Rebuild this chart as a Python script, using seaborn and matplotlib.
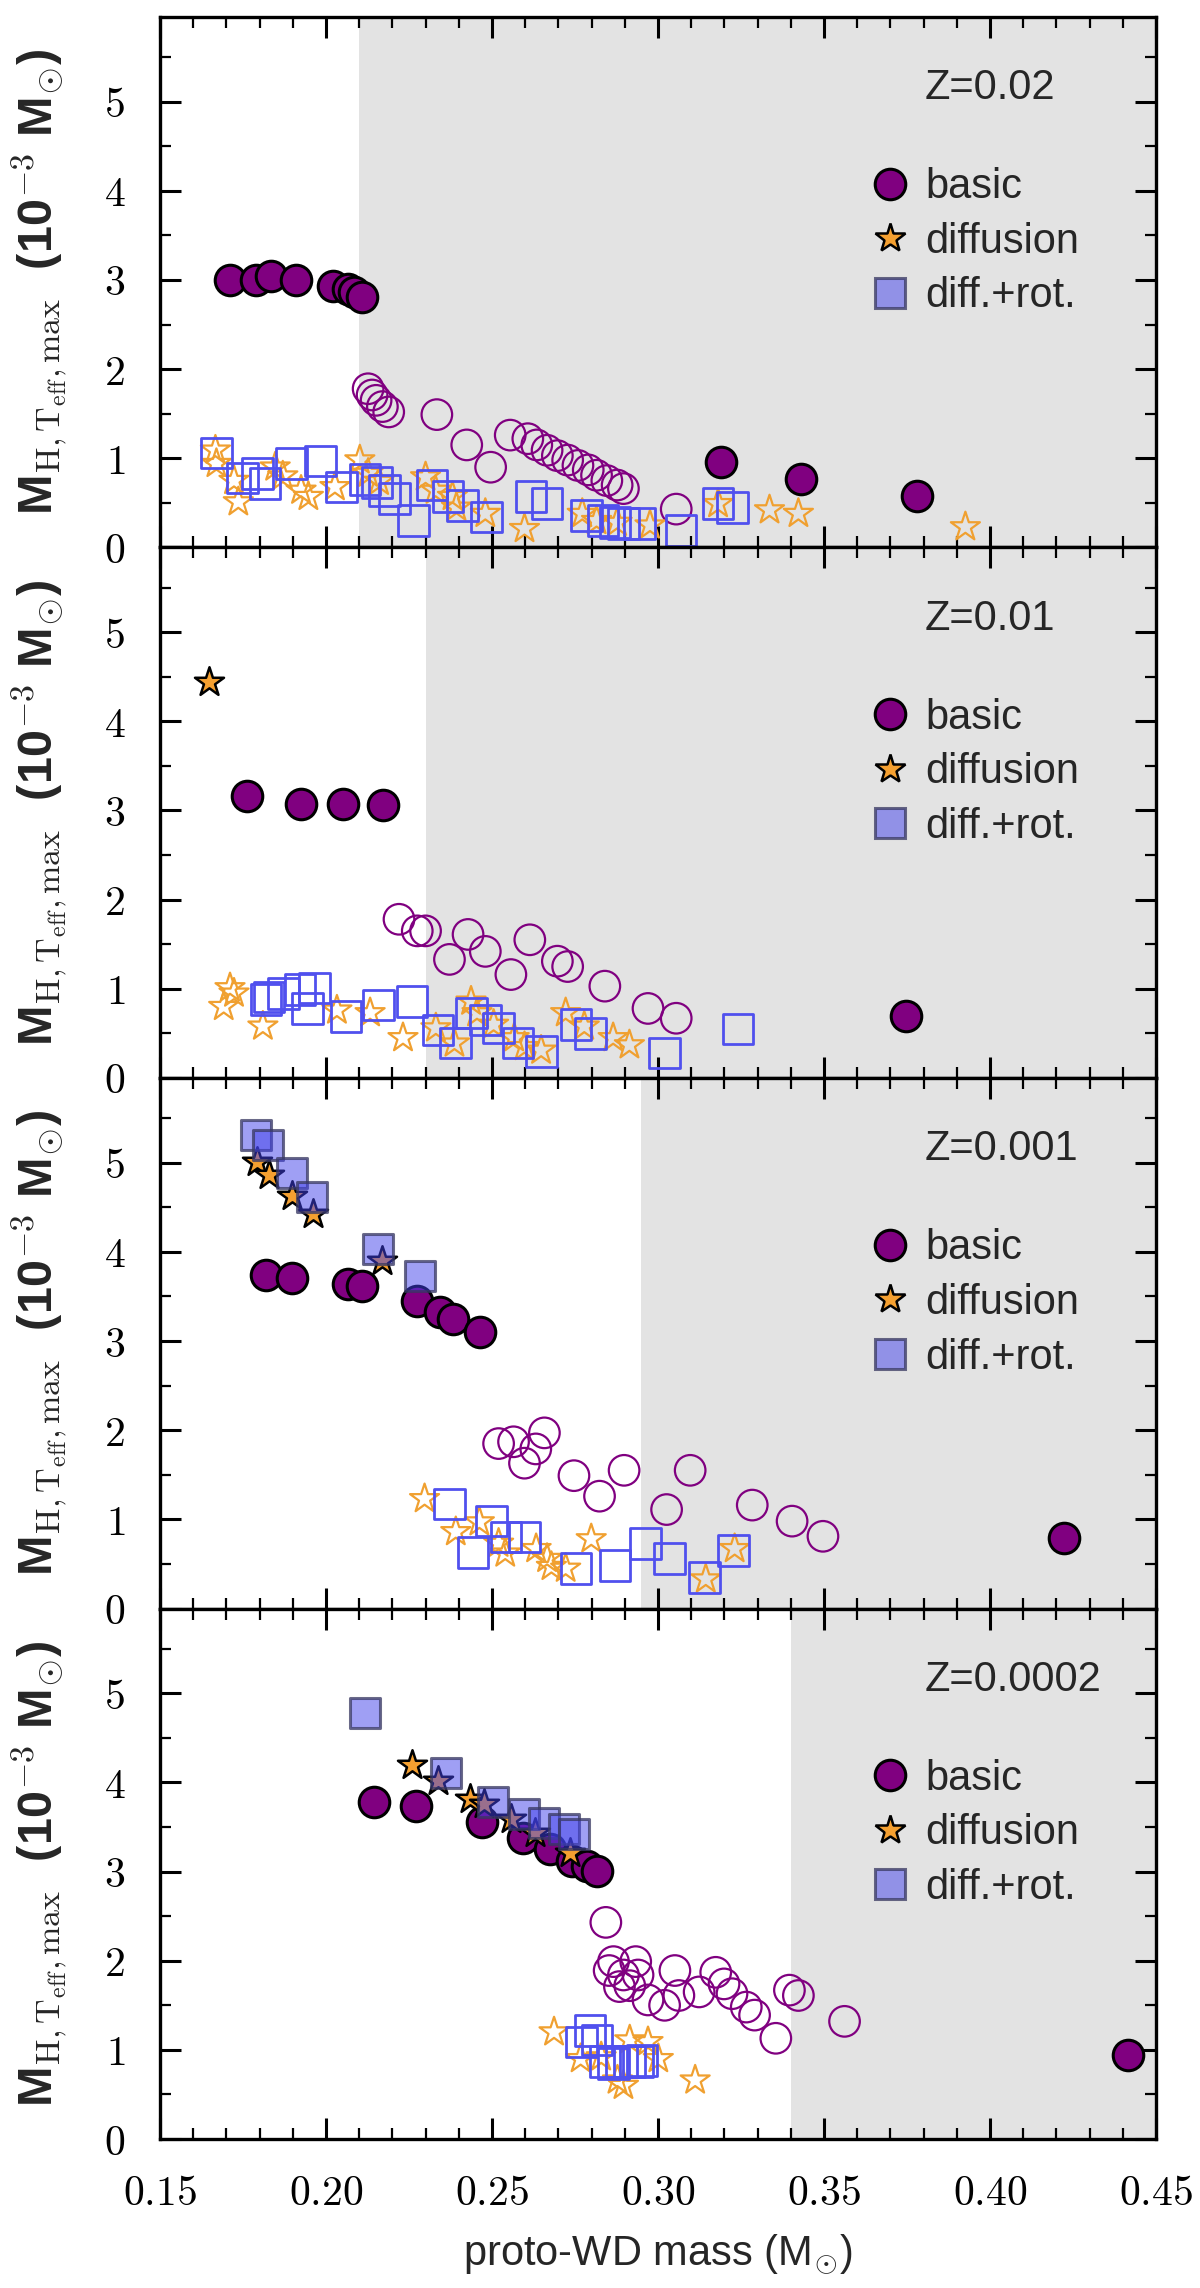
import numpy as np
import matplotlib
matplotlib.use("Agg")
import matplotlib.pyplot as plt
from matplotlib.lines import Line2D
from matplotlib.ticker import MultipleLocator, FuncFormatter
import seaborn as sns

# ---------------- data ----------------
panel_labels = ["Z=0.02", "Z=0.01", "Z=0.001", "Z=0.0002"]
shade_start = [0.21, 0.23, 0.295, 0.34]

# Z = 0.02
z1_basic_fill_x = [0.171, 0.179, 0.1835, 0.191, 0.202, 0.2065, 0.2085, 0.211, 0.319, 0.343, 0.378]
z1_basic_fill_y = [3.00, 3.00, 3.04, 3.00, 2.93, 2.90, 2.86, 2.81, 0.96, 0.77, 0.58]
z1_basic_open_x = [0.2127, 0.2139, 0.2151, 0.2170, 0.2189, 0.2334, 0.2424, 0.2496, 0.2555, 0.2608, 0.2635,
                   0.2666, 0.2697, 0.2728, 0.2759, 0.2790, 0.2815, 0.2846, 0.2877, 0.2896, 0.3055]
z1_basic_open_y = [1.78, 1.71, 1.65, 1.58, 1.52, 1.49, 1.15, 0.90, 1.26, 1.22, 1.15,
                   1.09, 1.03, 0.98, 0.92, 0.87, 0.81, 0.75, 0.70, 0.66, 0.43]
z1_diff_fill_x = []
z1_diff_fill_y = []
z1_diff_open_x = [0.1667, 0.1670, 0.1723, 0.1736, 0.1847, 0.1870, 0.1925, 0.1947, 0.2027, 0.2102, 0.2127, 0.2160,
                  0.2300, 0.2330, 0.2381, 0.2393, 0.2480, 0.2598, 0.2772, 0.2815, 0.2877, 0.2976, 0.3181,
                  0.3336, 0.3423, 0.3926]
z1_diff_open_y = [1.09, 0.94, 0.75, 0.51, 0.90, 0.80, 0.64, 0.57, 0.68, 0.98, 0.83, 0.74,
                  0.79, 0.64, 0.57, 0.45, 0.38, 0.21, 0.38, 0.30, 0.28, 0.25, 0.49,
                  0.42, 0.38, 0.23]
z1_rot_fill_x = []
z1_rot_fill_y = []
z1_rot_open_x = [0.1671, 0.1748, 0.1794, 0.1816, 0.1897, 0.1984, 0.2046, 0.2117, 0.2154, 0.2176, 0.2207, 0.2263,
                 0.2319, 0.2368, 0.2412, 0.2483, 0.2617, 0.2666, 0.2784, 0.2834, 0.2871, 0.2896, 0.2945,
                 0.3069, 0.3181, 0.3225]
z1_rot_open_y = [1.06, 0.78, 0.83, 0.72, 0.94, 0.97, 0.68, 0.76, 0.73, 0.64, 0.55, 0.30,
                 0.70, 0.57, 0.47, 0.34, 0.57, 0.49, 0.36, 0.30, 0.28, 0.27, 0.27,
                 0.19, 0.49, 0.45]

# Z = 0.01
z2_basic_fill_x = [0.1761, 0.1924, 0.2050, 0.2172, 0.3747]
z2_basic_fill_y = [3.16, 3.07, 3.07, 3.06, 0.69]
z2_basic_open_x = [0.2220, 0.2275, 0.2300, 0.2372, 0.2428, 0.2480, 0.2557, 0.2614, 0.2697, 0.2728, 0.2840,
                   0.2970, 0.3055]
z2_basic_open_y = [1.78, 1.65, 1.65, 1.33, 1.61, 1.42, 1.16, 1.55, 1.31, 1.25, 1.03, 0.78, 0.67]
z2_diff_fill_x = [0.1648]
z2_diff_fill_y = [4.44]
z2_diff_open_x = [0.1692, 0.1711, 0.1723, 0.1810, 0.2033, 0.2133, 0.2232, 0.2331, 0.2387, 0.2437, 0.2455,
                  0.2505, 0.2567, 0.2598, 0.2648, 0.2722, 0.2778, 0.2865, 0.2914]
z2_diff_open_y = [0.80, 1.01, 0.95, 0.58, 0.76, 0.73, 0.45, 0.56, 0.39, 0.86, 0.73,
                  0.60, 0.45, 0.35, 0.31, 0.73, 0.58, 0.45, 0.37]
z2_rot_fill_x = []
z2_rot_fill_y = []
z2_rot_open_x = [0.1820, 0.1829, 0.1872, 0.1922, 0.1965, 0.1944, 0.2061, 0.2158, 0.2259, 0.2337, 0.2391,
                 0.2439, 0.2480, 0.2520, 0.2579, 0.2650, 0.2753, 0.2797, 0.3020, 0.3241]
z2_rot_open_y = [0.88, 0.91, 0.95, 0.99, 1.01, 0.78, 0.69, 0.82, 0.86, 0.54, 0.39,
                 0.73, 0.65, 0.56, 0.39, 0.30, 0.60, 0.50, 0.28, 0.55]

# Z = 0.001
z3_basic_fill_x = [0.1820, 0.1897, 0.2065, 0.2110, 0.2275, 0.2344, 0.2383, 0.2463, 0.4224]
z3_basic_fill_y = [3.74, 3.71, 3.64, 3.62, 3.45, 3.32, 3.25, 3.10, 0.79]
z3_basic_open_x = [0.2520, 0.2565, 0.2598, 0.2632, 0.2658, 0.2747, 0.2824, 0.2898, 0.3026, 0.3097, 0.3284,
                   0.3404, 0.3497]
z3_basic_open_y = [1.85, 1.87, 1.63, 1.79, 1.97, 1.49, 1.26, 1.55, 1.11, 1.55, 1.16, 0.98, 0.81]
z3_diff_fill_x = [0.1792, 0.1829, 0.1897, 0.1962, 0.2170]
z3_diff_fill_y = [5.01, 4.86, 4.63, 4.43, 3.90]
z3_diff_open_x = [0.2297, 0.2391, 0.2462, 0.2520, 0.2540, 0.2633, 0.2666, 0.2679, 0.2722, 0.2799, 0.3144, 0.3231]
z3_diff_open_y = [1.23, 0.86, 0.97, 0.73, 0.62, 0.67, 0.56, 0.47, 0.45, 0.78, 0.33, 0.67]
z3_rot_fill_x = [0.1788, 0.1825, 0.1897, 0.1959, 0.2158, 0.2284]
z3_rot_fill_y = [5.31, 5.20, 4.88, 4.62, 4.03, 3.73]
z3_rot_open_x = [0.2372, 0.2443, 0.2499, 0.2542, 0.2598, 0.2753, 0.2871, 0.2962, 0.3035, 0.3140, 0.3228]
z3_rot_open_y = [1.17, 0.63, 0.98, 0.80, 0.80, 0.45, 0.48, 0.73, 0.56, 0.35, 0.65]

# Z = 0.0002
z4_basic_fill_x = [0.2146, 0.2271, 0.2471, 0.2594, 0.2674, 0.2742, 0.2785, 0.2816, 0.4417]
z4_basic_fill_y = [3.78, 3.74, 3.56, 3.38, 3.25, 3.12, 3.06, 3.01, 0.94]
z4_basic_open_x = [0.2843, 0.2853, 0.2866, 0.2884, 0.2896, 0.2915, 0.2933, 0.2940, 0.2970, 0.3020, 0.3051,
                   0.3063, 0.3124, 0.3174, 0.3199, 0.3223, 0.3266, 0.3291, 0.3355, 0.3396, 0.3423, 0.3562]
z4_basic_open_y = [2.43, 1.89, 1.99, 1.71, 1.84, 1.72, 1.99, 1.84, 1.56, 1.50, 1.89,
                   1.61, 1.65, 1.87, 1.74, 1.63, 1.48, 1.39, 1.13, 1.67, 1.61, 1.32]
z4_diff_fill_x = [0.2259, 0.2338, 0.2434, 0.2477, 0.2557, 0.2631, 0.2736]
z4_diff_fill_y = [4.19, 4.02, 3.81, 3.76, 3.59, 3.43, 3.21]
z4_diff_open_x = [0.2687, 0.2767, 0.2829, 0.2878, 0.2896, 0.2915, 0.2970, 0.3001, 0.3112]
z4_diff_open_y = [1.20, 0.90, 0.92, 0.66, 0.60, 1.11, 1.09, 0.90, 0.66]
z4_rot_fill_x = [0.2117, 0.2363, 0.2502, 0.2597, 0.2656, 0.2718, 0.2748]
z4_rot_fill_y = [4.78, 4.11, 3.78, 3.64, 3.55, 3.48, 3.42]
z4_rot_open_x = [0.2769, 0.2795, 0.2816, 0.2841, 0.2866, 0.2890, 0.2915, 0.2940, 0.2952]
z4_rot_open_y = [1.09, 1.22, 1.11, 0.87, 0.85, 0.87, 0.87, 0.87, 0.88]

legend_labels = ["basic", "diffusion", "diff.+rot."]

panels = [
    (z1_basic_fill_x, z1_basic_fill_y, z1_basic_open_x, z1_basic_open_y, z1_diff_fill_x, z1_diff_fill_y,
     z1_diff_open_x, z1_diff_open_y, z1_rot_fill_x, z1_rot_fill_y, z1_rot_open_x, z1_rot_open_y),
    (z2_basic_fill_x, z2_basic_fill_y, z2_basic_open_x, z2_basic_open_y, z2_diff_fill_x, z2_diff_fill_y,
     z2_diff_open_x, z2_diff_open_y, z2_rot_fill_x, z2_rot_fill_y, z2_rot_open_x, z2_rot_open_y),
    (z3_basic_fill_x, z3_basic_fill_y, z3_basic_open_x, z3_basic_open_y, z3_diff_fill_x, z3_diff_fill_y,
     z3_diff_open_x, z3_diff_open_y, z3_rot_fill_x, z3_rot_fill_y, z3_rot_open_x, z3_rot_open_y),
    (z4_basic_fill_x, z4_basic_fill_y, z4_basic_open_x, z4_basic_open_y, z4_diff_fill_x, z4_diff_fill_y,
     z4_diff_open_x, z4_diff_open_y, z4_rot_fill_x, z4_rot_fill_y, z4_rot_open_x, z4_rot_open_y),
]

# ---------------- style ----------------
sns.set_style("ticks")
plt.rcParams.update({
    "mathtext.fontset": "cm",
    "axes.linewidth": 2.4,
    "xtick.direction": "in", "ytick.direction": "in",
    "xtick.top": True, "ytick.right": True,
    "xtick.major.size": 15, "ytick.major.size": 15,
    "xtick.minor.size": 8, "ytick.minor.size": 8,
    "xtick.major.width": 2.2, "ytick.major.width": 2.2,
    "xtick.minor.width": 1.6, "ytick.minor.width": 1.6,
    "xtick.major.pad": 25, "ytick.major.pad": 25,
    "xtick.color": "black", "ytick.color": "black",
    "axes.edgecolor": "black",
})
plt.rcParams["font.family"] = ["Liberation Sans", "DejaVu Sans"]

purple = "#800080"
orange = "#f5a030"
open_orange = "#f0a030"
open_blue = "#5050ee"
sq_face = (0.25, 0.25, 0.92, 0.5)
sq_edge = (0.22, 0.22, 0.38, 0.75)

S_CIRC = 22 ** 2
S_STAR = 22 ** 2
S_SQ = 22 ** 2

fig, axes = plt.subplots(4, 1, figsize=(12, 22.88), dpi=100, sharex=True)
fig.subplots_adjust(left=0.1333, right=0.9633, top=0.9926, bottom=0.0651, hspace=0)

ylabel = r"M$_{\mathrm{H,T_{eff},max}}$  (10$^{-3}$ M$_{\odot}$)"

for i, ax in enumerate(axes):
    (bfx, bfy, box, boy, dfx, dfy, dox, doy, rfx, rfy, rox, roy) = panels[i]
    ax.axvspan(shade_start[i], 0.45, color="#e3e3e3", zorder=0, lw=0)

    if len(bfx):
        sns.scatterplot(x=bfx, y=bfy, ax=ax, marker="o", s=S_CIRC, color=purple,
                        edgecolor="black", linewidth=2.2, zorder=2)
    if len(box):
        sns.scatterplot(x=box, y=boy, ax=ax, marker="o", s=S_CIRC, color=purple,
                        facecolor="none", edgecolor=purple, linewidth=1.6, zorder=2)
    if len(dfx):
        sns.scatterplot(x=dfx, y=dfy, ax=ax, marker="*", s=S_STAR, color=orange,
                        edgecolor="black", linewidth=1.8, zorder=3)
    if len(dox):
        sns.scatterplot(x=dox, y=doy, ax=ax, marker="*", s=S_STAR, color=open_orange,
                        facecolor="none", edgecolor=open_orange, linewidth=1.6, zorder=3)
    if len(rfx):
        sns.scatterplot(x=rfx, y=rfy, ax=ax, marker="s", s=S_SQ, color=sq_face,
                        edgecolor=sq_edge, linewidth=2.2, zorder=4)
    if len(rox):
        sns.scatterplot(x=rox, y=roy, ax=ax, marker="s", s=S_SQ, color=open_blue,
                        facecolor="none", edgecolor=open_blue, linewidth=2.0, zorder=4)

    ax.set_xlim(0.15, 0.45)
    ax.set_ylim(0, 5.95)
    ax.xaxis.set_major_locator(MultipleLocator(0.05))
    ax.xaxis.set_minor_locator(MultipleLocator(0.01))
    ax.yaxis.set_major_locator(MultipleLocator(1))
    ax.yaxis.set_minor_locator(MultipleLocator(0.5))
    ax.tick_params(which="both", top=True, right=True, direction="in", labelsize=30)
    ax.yaxis.set_major_formatter(FuncFormatter(lambda v, p: f"${v:.0f}$"))
    ax.xaxis.set_major_formatter(FuncFormatter(lambda v, p: f"${v:.2f}$"))
    for sp in ax.spines.values():
        sp.set_visible(True)
        sp.set_linewidth(2.4)
        sp.set_zorder(10)

    ax.set_ylabel(ylabel, fontsize=35, fontweight="bold")
    ax.yaxis.set_label_coords(-0.09, 0.5)

    ax.text(0.768, 0.866, panel_labels[i], transform=ax.transAxes, fontsize=30,
            ha="left", va="center")

    handles = [
        Line2D([], [], ls="none", marker="o", markersize=22, markerfacecolor=purple,
               markeredgecolor="black", markeredgewidth=2.2),
        Line2D([], [], ls="none", marker="*", markersize=22, markerfacecolor=orange,
               markeredgecolor="black", markeredgewidth=1.8),
        Line2D([], [], ls="none", marker="s", markersize=22, markerfacecolor=sq_face,
               markeredgecolor=sq_edge, markeredgewidth=2.2),
    ]
    ax.legend(handles, legend_labels, loc="center left", bbox_to_anchor=(0.712, 0.576),
              frameon=False, fontsize=30, borderpad=0, borderaxespad=0, handlelength=1.0,
              handletextpad=0.35, labelspacing=0.35)

for ax in axes[:-1]:
    ax.tick_params(labelbottom=False)

axes[-1].set_xlabel(r"proto-WD mass (M$_{\odot}$)", fontsize=30, labelpad=14)

fig.savefig("out.png", dpi=100)
